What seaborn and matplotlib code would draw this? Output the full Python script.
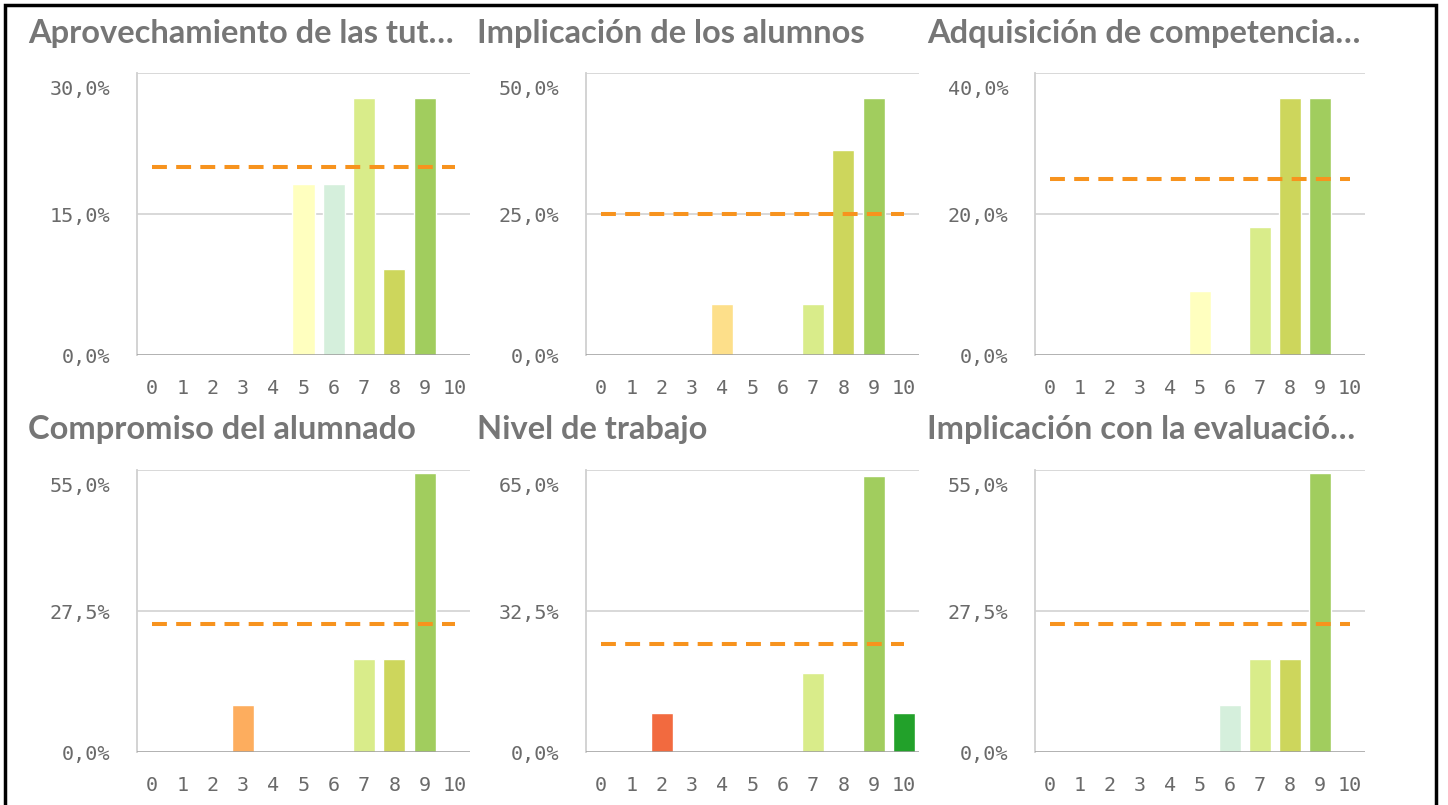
import matplotlib
matplotlib.use('Agg')
from matplotlib import pyplot as plt
import seaborn as sns
import pandas as pd

# notas 0..10
notas = [str(i) for i in range(11)]

titulos = ['Aprovechamiento de las tut…', 'Implicación de los alumnos', 'Adquisición de competencia…',
           'Compromiso del alumnado', 'Nivel de trabajo', 'Implicación con la evaluació…']

# porcentajes por nota (0..10)
aprovechamiento = [0, 0, 0, 0, 0, 18.2, 18.2, 27.3, 9.1, 27.3, 0]
implicacion = [0, 0, 0, 0, 9.1, 0, 0, 9.1, 36.4, 45.5, 0]
adquisicion = [0, 0, 0, 0, 0, 9.1, 0, 18.2, 36.4, 36.4, 0]
compromiso = [0, 0, 0, 9.1, 0, 0, 0, 18.2, 18.2, 54.5, 0]
nivel = [0, 0, 9.1, 0, 0, 0, 0, 18.2, 0, 63.6, 9.1]
evaluacion = [0, 0, 0, 0, 0, 0, 9.1, 18.2, 18.2, 54.5, 0]

maximos = [30, 50, 40, 55, 65, 55]
referencia = [20, 25, 25, 25, 25, 25]

colores = ['#d7301f', '#f46d43', '#f26a3f', '#fdad5e', '#fddf8a', '#ffffbf',
           '#d5efdc', '#d9ec8a', '#cdd65c', '#a1cd5e', '#22a12a']
paleta = dict(zip(notas, colores))

series = [aprovechamiento, implicacion, adquisicion, compromiso, nivel, evaluacion]

def fmt(v):
    return f'{v:.1f}%'.replace('.', ',')

sns.set_style('white')
fig = plt.figure(figsize=(14.48, 8.05), dpi=100)
W, H = 1448, 805

lefts = [137, 586, 1035]
widths = [333, 333, 330]
tops = [73, 470]
title_x = [28, 477, 927]
title_y = [34, 429]

for i, vals in enumerate(series):
    r, c = divmod(i, 3)
    ax = fig.add_axes([lefts[c] / W, 1 - (tops[r] + 282) / H, widths[c] / W, 282 / H])
    df = pd.DataFrame({'nota': notas, 'pct': vals})
    sns.barplot(data=df, x='nota', y='pct', hue='nota', palette=paleta, order=notas,
                legend=False, width=0.73, saturation=1, ax=ax)
    ax.hlines(referencia[i], 0, 10, colors='#f7931e', linewidth=2.9,
              linestyles=(0, (3.7, 2.3)), zorder=5)
    m = maximos[i]
    ax.set_xlim(-0.5, 10.5)
    ax.set_ylim(0, m)
    ticks = [0, m / 2, m]
    ax.set_yticks(ticks)
    # la etiqueta superior queda por debajo de la línea
    ax.set_yticklabels([fmt(t) for t in ticks[:-1]] + [''])
    ax.annotate(fmt(m), xy=(0, m), xycoords=('axes fraction', 'data'),
                xytext=(-19, -5), textcoords='offset points', ha='right', va='top',
                fontsize=14.5, color='#6a6a6a', family='DejaVu Sans Mono')
    for t in ticks[1:]:
        ax.axhline(t, color='#d6d6d6', linewidth=1.3, zorder=0)
    ax.axhline(0, color='#9a9a9a', linewidth=1.8, zorder=4)
    ax.set_xlabel('')
    ax.set_ylabel('')
    for s in ['top', 'right', 'bottom']:
        ax.spines[s].set_visible(False)
    ax.spines['left'].set_color('#d0d0d0')
    ax.spines['left'].set_linewidth(1.3)
    ax.tick_params(axis='y', length=12, width=1.3, color='#d6d6d6', pad=7,
                   labelsize=14.5, labelcolor='#6a6a6a')
    ax.tick_params(axis='x', length=0, pad=17, labelsize=14.5, labelcolor='#6a6a6a')
    for lab in ax.get_xticklabels() + ax.get_yticklabels():
        lab.set_family('DejaVu Sans Mono')
    fig.text(title_x[c] / W, 1 - title_y[r] / H, titulos[i], fontsize=23.5,
             fontweight='bold', family='Lato', color='#767676', va='center', ha='left')

# marco negro
fig.add_artist(plt.Rectangle((5 / W, -0.01), 1431 / W, 1 - 5 / H + 0.01, transform=fig.transFigure,
                             fill=False, edgecolor='black', linewidth=2.5))

fig.savefig('out.png', dpi=100)
